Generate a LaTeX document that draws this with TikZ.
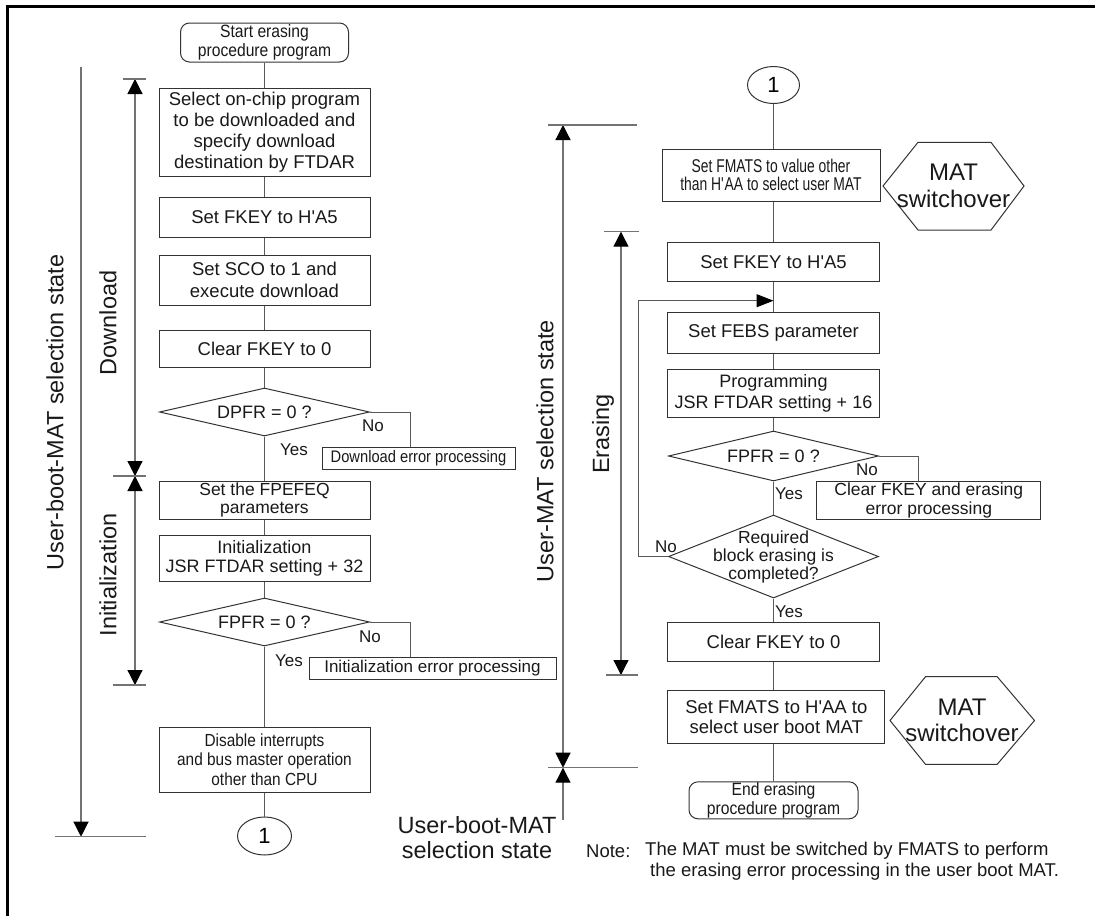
\documentclass[tikz,border=0pt]{standalone}
\usepackage{fontspec}
\setmainfont{Liberation Sans}
\newfontfamily\condA[FakeStretch=0.88]{Liberation Sans}
\newfontfamily\condB[FakeStretch=0.75]{Liberation Sans}
\usetikzlibrary{arrows.meta,shapes.geometric}
\newcommand\myfs[2]{\fontsize{#1}{#2}\selectfont}
\newcommand\sq{\textquotesingle}
\begin{document}
\begin{tikzpicture}[x=1pt,y=-1pt,
  box/.style={draw=black!80, line width=1pt, inner sep=0pt, align=center, text=black!90, font=\myfs{18.5}{21}},
  term/.style={box, rounded corners=9pt},
  dia/.style={draw=black!80, line width=1pt, diamond, inner sep=0pt},
  hexline/.style={draw=black!80, line width=1pt},
  conn/.style={draw=black!65, line width=1pt},
  meas/.style={draw=black!55, line width=1.2pt},
  lbl/.style={font=\myfs{17}{19}, inner sep=0pt, text=black!90},
  rlbl/.style={font=\myfs{23.5}{25}, inner sep=0pt, text=black!90},
  mytip/.tip={Triangle[width=15pt,length=15pt,color=black]},
  looptip/.tip={Triangle[width=13pt,length=17pt,color=black]}]
\useasboundingbox (0,0) rectangle (1095,916);
% frame
\draw[line width=2.5pt] (7.3,916) -- (7.3,6.5) -- (1095,6.5);

% ---------------- left column ----------------
\node[term, minimum width=168pt, minimum height=39pt, font=\condA\myfs{17.8}{19}] (start) at (264.5,42.5) {Start erasing\\procedure program};
\node[box, minimum width=211pt, minimum height=88pt] (b1) at (264.5,132) {Select on-chip program\\to be downloaded and\\specify download\\destination by FTDAR};
\node[box, minimum width=211pt, minimum height=40pt] (b2) at (264.5,217) {Set FKEY to H\sq A5};
\node[box, minimum width=211pt, minimum height=50pt, font=\myfs{18.5}{22}] (b3) at (264.5,280) {Set SCO to 1 and\\execute download};
\node[box, minimum width=211pt, minimum height=37pt] (b4) at (264.5,348.5) {Clear FKEY to 0};
\node[dia, minimum width=210pt, minimum height=48pt] (d1) at (264.5,412) {};
\node[lbl, font=\myfs{18}{20}] at (d1.center) {DPFR = 0 ?};
\node[box, minimum width=193pt, minimum height=22pt, font=\condA\myfs{16.7}{18}] (e1) at (418.5,458) {Download error processing};
\node[lbl] at (373,426) {No};
\node[lbl] at (294,450) {Yes};
\node[box, minimum width=211pt, minimum height=38pt, font=\myfs{17.5}{18}] (b5) at (264.5,500) {Set the FPEFEQ\\parameters};
\node[box, minimum width=211pt, minimum height=46pt, font=\myfs{18}{19}] (b6) at (264.5,558) {Initialization\\JSR FTDAR setting + 32};
\node[dia, minimum width=210pt, minimum height=48pt] (d2) at (264.5,622) {};
\node[lbl, font=\myfs{18}{20}] at (d2.center) {FPFR = 0 ?};
\node[box, minimum width=247pt, minimum height=22pt, font=\myfs{17}{18}] (e2) at (432.5,668) {Initialization error processing};
\node[lbl] at (370,637) {No};
\node[lbl] at (289,661) {Yes};
\node[box, minimum width=211pt, minimum height=65pt, font=\condA\myfs{17.5}{19.3}] (b7) at (264.5,759.5) {Disable interrupts\\and bus master operation\\other than CPU};
\node[draw=black!80, line width=1pt, ellipse, minimum width=54pt, minimum height=38pt, inner sep=0pt, font=\myfs{22}{24}] (c1) at (264.5,836) {1};

\draw[conn] (start) -- (b1);
\draw[conn] (b1) -- (b2);
\draw[conn] (b2) -- (b3);
\draw[conn] (b3) -- (b4);
\draw[conn] (b4) -- (d1);
\draw[conn] (d1) -- (b5);
\draw[conn] (b5) -- (b6);
\draw[conn] (b6) -- (d2);
\draw[conn] (d2) -- (b7);
\draw[conn] (b7) -- (c1);
\coordinate (n1) at (410,412);
\draw[conn] (d1.east) -- (n1) -- (n1 |- e1.north);
\coordinate (n2) at (410,622);
\draw[conn] (d2.east) -- (n2) -- (n2 |- e2.north);

% left measurement arrows
\coordinate (dlT) at (135,79);
\coordinate (dlB) at (135,476);
\coordinate (inB) at (135,685);
\coordinate (usT) at (81,67);
\coordinate (usB) at (81,836.7);
\draw[meas, mytip-mytip] (dlT) -- (dlB);
\draw[meas, mytip-mytip] (dlB) -- (inB);
\draw[meas, -mytip] (usT) -- (usB);
\draw[meas] (123,79) -- (146,79);
\draw[meas] (113,476) -- (146,476);
\draw[meas] (113,685) -- (146,685);
\draw[meas] (55,836.7) -- (146,836.7);
\node[rlbl, rotate=90] (lUB) at (55,412.5) {User-boot-MAT selection state};
\node[rlbl, rotate=90] (lDL) at (108,323) {Download};
\node[rlbl, rotate=90] (lIN) at (108,575) {Initialization};

% ---------------- right column ----------------
\node[draw=black!80, line width=1pt, ellipse, minimum width=52pt, minimum height=37pt, inner sep=0pt, font=\myfs{22}{24}] (c2) at (773.5,85) {1};
\node[box, minimum width=218pt, minimum height=52pt, font=\condB\myfs{18.5}{18.5}] (r1) at (771,175) {Set FMATS to value other\\than H\sq AA to select user MAT};
\draw[hexline] (883,186) -- (918,142.3) -- (991,142.3) -- (1024,186) -- (991,230) -- (918,230) -- cycle;
\node[font=\myfs{24}{26.7}, align=center, inner sep=0pt, text=black!90] (h1) at (953.5,186) {MAT\\switchover};
\node[box, minimum width=212pt, minimum height=39pt] (r2) at (773.5,261.7) {Set FKEY to H\sq A5};
\node[box, minimum width=212pt, minimum height=41pt] (r3) at (773.5,333) {Set FEBS parameter};
\node[box, minimum width=212pt, minimum height=48pt, font=\myfs{18}{21.6}] (r4) at (773.5,393.3) {Programming\\JSR FTDAR setting + 16};
\node[dia, minimum width=210pt, minimum height=50pt] (d3) at (773.5,456) {};
\node[lbl, font=\myfs{18}{20}] at (d3.center) {FPFR = 0 ?};
\node[box, minimum width=224pt, minimum height=38pt, font=\myfs{17.5}{19}] (e3) at (928.8,500) {Clear FKEY and erasing\\error processing};
\node[lbl] at (867,470) {No};
\node[lbl] at (789,494) {Yes};
\node[dia, minimum width=210pt, minimum height=83pt] (d4) at (773.5,556.5) {};
\node[lbl, font=\myfs{17.5}{18}, align=center] at (d4.center) {Required\\block erasing is\\completed?};
\node[lbl] at (666,547) {No};
\node[lbl] at (789,611.7) {Yes};
\node[box, minimum width=212pt, minimum height=39pt] (r5) at (773.5,641.8) {Clear FKEY to 0};
\node[box, minimum width=217pt, minimum height=53pt, font=\myfs{18.5}{20}] (r6) at (776.3,717.3) {Set FMATS to H\sq AA to\\select user boot MAT};
\draw[hexline] (890,720.5) -- (925.5,676.7) -- (997.2,676.7) -- (1034.5,720.5) -- (997.2,764.3) -- (925.5,764.3) -- cycle;
\node[font=\myfs{24}{26.7}, align=center, inner sep=0pt, text=black!90] (h2) at (962,720.5) {MAT\\switchover};
\node[term, minimum width=169pt, minimum height=37pt, font=\condA\myfs{17.8}{19}] (end) at (773.5,800.3) {End erasing\\procedure program};

\draw[conn] (c2.south) -- (c2.south |- r1.north);
\draw[conn] (r1.south -| r2) -- (r2.north);
\draw[conn] (r2) -- (r3);
\draw[conn] (r3) -- (r4);
\draw[conn] (r4) -- (d3);
\draw[conn] (d3) -- (d4);
\draw[conn] (d4) -- (r5);
\draw[conn] (r5.south) -- (r5.south |- r6.north);
\draw[conn] (r6.south -| end) -- (end.north);
\coordinate (n3) at (918,456);
\draw[conn] (d3.east) -- (n3) -- (n3 |- e3.north);
\coordinate (lpx) at (638,300.7);
\coordinate (lpend) at (773.5,300.7);
\draw[conn, -looptip] (d4.west) -| (lpx) -- (lpend);

% right measurement arrows
\coordinate (umT) at (563,125);
\coordinate (umB) at (563,767.7);
\coordinate (umL) at (563,820);
\coordinate (erT) at (621,231.7);
\coordinate (erB) at (621,675);
\draw[meas, mytip-mytip] (umT) -- (umB);
\draw[meas, mytip-] (umB) -- (umL);
\draw[meas, mytip-mytip] (erT) -- (erB);
\draw[meas] (548,125) -- (637,125);
\draw[meas] (604,231.7) -- (639,231.7);
\draw[meas] (606,675) -- (638,675);
\draw[meas] (548,767.7) -- (638,767.7);
\node[rlbl, rotate=90] (rUM) at (545,451) {User-MAT selection state};
\node[rlbl, rotate=90] (rER) at (603,434) {Erasing};

% bottom labels
\node[rlbl, align=center] (lUB2) at (477,838) {User-boot-MAT\\selection state};
\node[font=\myfs{18.5}{21}, anchor=west, inner sep=0pt, text=black!90] (nt) at (586,851) {Note:};
\node[font=\myfs{18.5}{21}, anchor=west, inner sep=0pt, text=black!90] (nt1) at (645,851) {The MAT must be switched by FMATS to perform};
\node[font=\myfs{18.5}{21}, anchor=west, inner sep=0pt, text=black!90] (nt2) at (650,872) {the erasing error processing in the user boot MAT.};
\end{tikzpicture}
\end{document}
